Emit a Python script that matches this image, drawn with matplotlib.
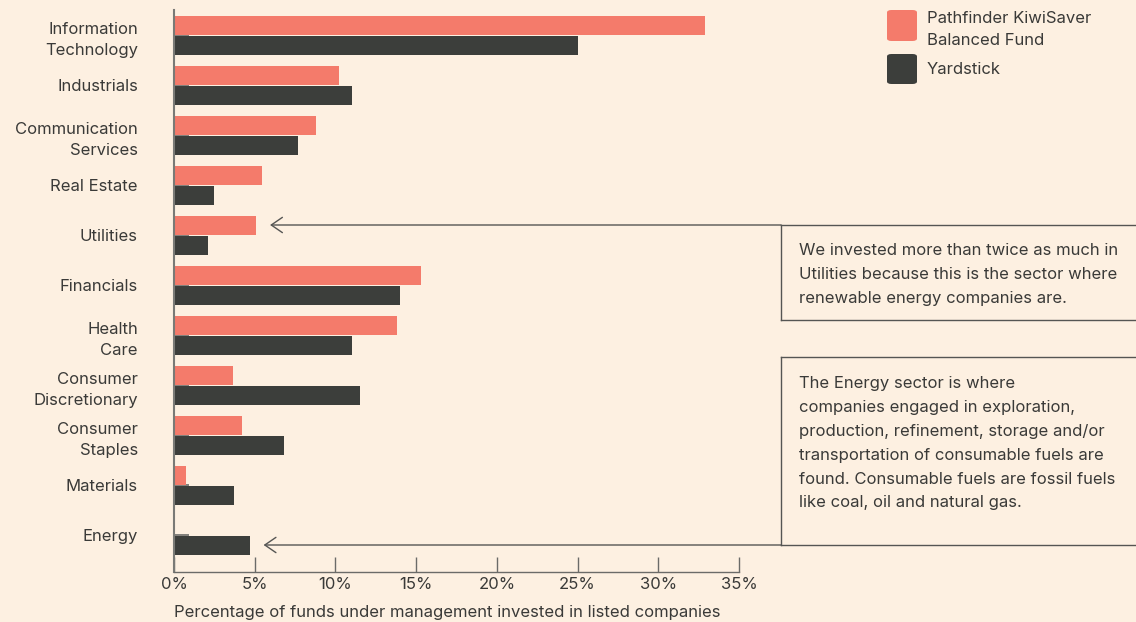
import numpy as np
import matplotlib
matplotlib.use("Agg")
import matplotlib.pyplot as plt
from matplotlib.patches import FancyBboxPatch
from matplotlib.lines import Line2D

# --- data ---
sectors = ["Information\nTechnology", "Industrials", "Communication\nServices", "Real Estate",
           "Utilities", "Financials", "Health\nCare", "Consumer\nDiscretionary",
           "Consumer\nStaples", "Materials", "Energy"]
pathfinder = [32.9, 10.2, 8.8, 5.45, 5.1, 15.3, 13.8, 3.65, 4.2, 0.75, 0.0]
yardstick = [25.0, 11.0, 7.7, 2.5, 2.1, 14.0, 11.0, 11.5, 6.8, 3.7, 4.7]
xticks = [0, 5, 10, 15, 20, 25, 30, 35]
xtick_labels = ["0%", "5%", "10%", "15%", "20%", "25%", "30%", "35%"]
series_names = ["Pathfinder KiwiSaver\nBalanced Fund", "Yardstick"]
note_utilities = ("We invested more than twice as much in\nUtilities because this is the sector where\n"
                  "renewable energy companies are.")
note_energy = ("The Energy sector is where\ncompanies engaged in exploration,\n"
               "production, refinement, storage and/or\ntransportation of consumable fuels are\n"
               "found. Consumable fuels are fossil fuels\nlike coal, oil and natural gas.")

# --- style ---
BG = "#FDF0E1"
PINK = "#F47B6B"
DARK = "#3C3E3B"
TXT = "#3A3A38"
LINE = "#555553"
plt.rcParams["font.family"] = ["Inter", "DejaVu Sans"]
plt.rcParams["text.color"] = TXT
FS = 12

W, H = 1136, 622
fig = plt.figure(figsize=(W / 100, H / 100), dpi=100, facecolor=BG)
ax = fig.add_axes([174 / W, 1 - 572 / H, (739 - 174) / W, (572 - 10) / H])
ax.set_facecolor(BG)

y = np.arange(len(sectors))
ax.barh(y - 0.2, pathfinder, height=0.38, color=PINK, zorder=2)
ax.barh(y + 0.2, yardstick, height=0.38, color=DARK, zorder=2)
ax.set_axisbelow(True)

ax.set_xlim(0, 35)
ax.set_ylim(10.74, -0.5)
ax.set_yticks(y)
ax.set_yticklabels(sectors, fontsize=FS, linespacing=1.52, color=TXT, multialignment="right")
ax.set_xticks(xticks)
ax.set_xticklabels(xtick_labels, fontsize=FS, color=TXT)
ax.tick_params(axis="y", direction="in", length=11, width=1.2, color="#6b6b68", pad=26)
ax.tick_params(axis="x", direction="in", length=11, width=1, color="#6b6b68", pad=3.5)
for s in ["top", "right"]:
    ax.spines[s].set_visible(False)
ax.spines["left"].set_color("#7a7a76")
ax.spines["left"].set_linewidth(1.5)
ax.spines["bottom"].set_color("#6b6b68")
ax.spines["bottom"].set_linewidth(1)

fig.text(174 / W, 1 - 612 / H, "Percentage of funds under management invested in listed companies",
         fontsize=FS, ha="left", va="center")

# --- legend ---
legend_y = [(10, 41), (54, 84)]
text_y = [29.5, 70]
for (top, bot), ty, col, name in zip(legend_y, text_y, [PINK, DARK], series_names):
    fig.add_artist(FancyBboxPatch((887 / W, 1 - bot / H), 30 / W, (bot - top) / H,
                                  boxstyle="round,pad=0,rounding_size=0.004",
                                  transform=fig.transFigure, facecolor=col, edgecolor="none"))
    fig.text(927 / W, 1 - ty / H, name, fontsize=FS, va="center", ha="left",
             linespacing=1.52)

# --- annotation boxes and arrows ---
def arrow(val, yy, y_px):
    ax.annotate("", xy=(val + 0.85, yy), xycoords="data",
                xytext=(781, H - y_px), textcoords="figure pixels",
                arrowprops=dict(arrowstyle="->,head_length=0.8,head_width=0.55",
                                color=LINE, lw=1, shrinkA=0, shrinkB=0))

def fline(xs, ys):
    fig.add_artist(Line2D([x / W for x in xs], [1 - v / H for v in ys],
                          transform=fig.transFigure, color=LINE, lw=1))

ui = sectors.index("Utilities")
ei = sectors.index("Energy")
arrow(pathfinder[ui], ui - 0.2, 225)
arrow(yardstick[ei], ei + 0.2, 545)
fline([781, W], [225, 225])
fline([781, 781], [225, 320])
fline([781, W], [320, 320])
fline([781, W], [357, 357])
fline([781, 781], [357, 545])
fline([781, W], [545, 545])

fig.text(799 / W, 1 - 243 / H, note_utilities, fontsize=FS, va="top", ha="left", linespacing=1.74)
fig.text(799 / W, 1 - 376 / H, note_energy, fontsize=FS, va="top", ha="left", linespacing=1.74)

fig.savefig("out.png", dpi=100, facecolor=BG)
